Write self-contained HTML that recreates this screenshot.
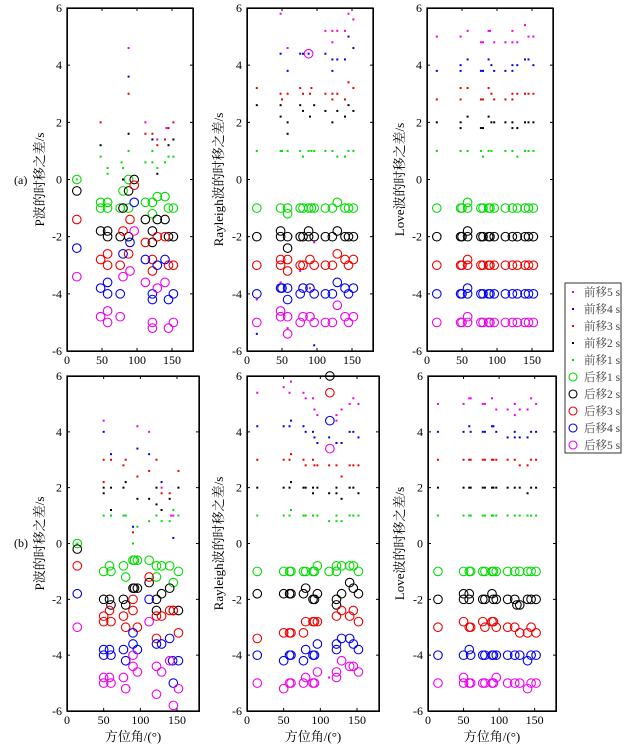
<!DOCTYPE html>
<html><head><meta charset="utf-8">
<style>
html,body{margin:0;padding:0;background:#fff;}
svg{display:block;font-family:"Liberation Serif","Noto Serif CJK SC",serif;}
.frame{position:absolute;border:1px solid #000;box-sizing:border-box;pointer-events:none;}
</style></head>
<body style="position:relative;width:625px;height:746px;">
<svg id="chart" width="625" height="746" viewBox="0 0 625 746"></svg>
<script>
// ---- data: [azimuth, time shift] ----
const aP_pre1=[[14,0],[48,0.8],[58,0.4],[58,0.2],[78,0.6],[80,0.4],[88,1.0],[112,0.6],[122,1.0],[122,0.6],[129,0.4],[140,0.6],[145,0.8],[152,0.8]];
const aP_pre2=[[48,1.2],[80,0],[88,1.6],[122,1.4],[129,0.2],[145,1.2],[152,1.4]];
const aP_pre3=[[48,2],[88,3],[112,1.6],[122,1.6],[129,1.2],[140,1.4],[145,1.8],[152,2]];
const aP_pre4=[[88,3.6]];
const aP_pre5=[[88,4.6],[112,2],[129,1.4],[142,1.8]];
const aP_post1=[[14,0],[48,-0.8],[48,-1],[58,-0.8],[58,-1],[76,-1],[80,-0.4],[88,-1],[88,0],[112,-0.8],[122,-0.8],[122,-1.2],[129,-0.6],[140,-0.6],[145,-1],[152,-1]];
const aP_post2=[[14,-0.4],[48,-1.8],[58,-1.8],[58,-2],[76,-2],[80,-1],[88,-0.4],[88,-2],[96,0],[112,-1.4],[122,-1.8],[122,-2.2],[129,-1.4],[140,-1.4],[145,-2],[152,-2]];
const aP_post3=[[14,-1.4],[48,-2.8],[58,-2.6],[58,-3],[76,-3],[80,-1.8],[88,-2.6],[90,-1.4],[96,-0.2],[112,-2.2],[122,-2.8],[122,-3.2],[129,-2],[140,-2],[145,-3],[152,-3]];
const aP_post4=[[14,-2.4],[48,-3.8],[58,-3.6],[58,-4],[76,-4],[80,-2.6],[90,-2.2],[96,-0.8],[112,-2.8],[122,-4],[122,-4.2],[129,-3],[140,-2.8],[145,-4.2],[152,-4]];
const aP_post5=[[14,-3.4],[48,-4.8],[58,-4.6],[58,-5],[76,-4.8],[80,-3.4],[90,-3.2],[96,-1.8],[112,-3.6],[122,-5],[122,-5.2],[129,-3.8],[140,-3.6],[145,-5.2],[152,-5]];

const aR_pre1=[[14,1],[48,1],[50,1],[58,1],[76,1],[80,0.8],[88,1],[92,1],[96,1],[112,1],[122,1],[129,0.8],[140,0.8],[145,1],[152,1]];
const aR_pre2=[[14,2.6],[48,2.6],[48,2.2],[58,2],[58,1.6],[76,2.6],[80,2.4],[90,2.2],[96,2.6],[112,2.4],[122,2],[129,2.4],[140,2.2],[145,2.6],[152,2.4]];
const aR_pre3=[[14,3.2],[48,3],[50,2.8],[58,3],[76,3.2],[80,3],[90,3],[92,3.2],[112,3],[122,3],[122,2.8],[129,3],[140,2.8],[145,3.4],[152,3.2]];
const aR_pre4=[[14,-5.4],[48,4.4],[58,3.8],[76,4.4],[80,4.4],[88,4.4],[96,-5.8],[112,4.4],[122,4.2],[122,3.8],[129,4.2],[140,4.2],[145,5],[152,4.6]];
const aR_pre5=[[14,-4.2],[48,5.8],[48,-3.6],[58,4.6],[58,-5.2],[76,-3.2],[90,-3.8],[96,-2.2],[112,5.2],[122,5.2],[122,4.8],[129,5.2],[140,5.2],[145,5.8],[152,5.6]];
const aR_post1=[[14,-1],[48,-1],[58,-1],[58,-1.2],[76,-1],[80,-1],[88,-1],[92,-1],[96,-1],[112,-1],[122,-1],[129,-0.8],[140,-1],[145,-1],[152,-1]];
const aR_post2=[[14,-2],[48,-1.8],[48,-2],[58,-2],[58,-2.4],[76,-2],[80,-2],[88,-1.8],[88,-2],[96,-2],[112,-2],[122,-2],[129,-1.8],[140,-2],[145,-2],[152,-2]];
const aR_post3=[[14,-3],[48,-2.8],[48,-3],[58,-2.8],[58,-3.2],[76,-3],[80,-3],[90,-2.8],[96,-3],[112,-3],[122,-3],[129,-2.6],[140,-2.8],[145,-3],[152,-2.8]];
const aR_post4=[[14,-4],[48,-3.8],[50,-3.8],[58,-3.8],[58,-4.2],[76,-4],[80,-3.8],[90,-3.8],[96,-4],[112,-4],[122,-4],[129,-3.6],[140,-3.8],[145,-4],[152,-3.8]];
const aR_post5=[[14,-5],[48,-4.6],[48,-4.8],[58,-4.8],[58,-5.4],[76,-5],[80,-4.8],[90,-4.8],[96,-5],[112,-5],[122,-5],[129,-4.4],[140,-4.8],[145,-5],[152,-4.8],[88,4.4]];

const aL_pre1=[[14,1],[48,1],[58,1],[77,1],[80,0.8],[88,1],[92,1],[112,1],[122,1],[129,0.8],[140,1],[145,1],[152,1]];
const aL_pre2=[[14,2],[48,2],[48,1.8],[58,2.2],[77,1.8],[80,1.8],[88,2.2],[92,2],[96,2],[112,2],[122,2],[122,1.8],[129,1.8],[140,2],[145,2],[152,2]];
const aL_pre3=[[14,2.8],[48,3.2],[48,2.8],[58,3.2],[77,2.8],[80,2.8],[88,3.2],[92,3],[96,2.8],[112,2.8],[122,3],[122,2.8],[129,3],[140,3],[145,3],[152,3]];
const aL_pre4=[[14,3.8],[48,4],[48,3.8],[58,4.2],[77,3.8],[80,3.8],[88,4.2],[92,4],[96,3.8],[112,3.8],[122,4],[122,3.8],[129,4],[140,4.2],[145,4.2],[152,4]];
const aL_pre5=[[14,5],[48,5],[58,5.2],[77,4.8],[80,4.8],[88,5.2],[90,5.2],[96,4.8],[112,4.8],[122,5.2],[122,4.8],[129,4.8],[140,5.4],[145,5],[152,5]];
const aL_post1=[[14,-1],[48,-1],[50,-1],[58,-0.8],[58,-1],[77,-1],[80,-1],[88,-1],[90,-1],[96,-1],[112,-1],[122,-1],[129,-1],[140,-1],[145,-1],[152,-1]];
const aL_post2=[[14,-2],[48,-2],[50,-2],[58,-1.8],[58,-2],[77,-2],[80,-2],[88,-2],[90,-2],[96,-2],[112,-2],[122,-2],[129,-2],[140,-2],[145,-2],[152,-2]];
const aL_post3=[[14,-3],[48,-3],[50,-3],[58,-2.8],[58,-3],[77,-3],[80,-3],[88,-3],[90,-3],[96,-3],[112,-3],[122,-3],[129,-3],[140,-3],[145,-3],[152,-3]];
const aL_post4=[[14,-4],[48,-4],[50,-4],[58,-3.8],[58,-4],[77,-4],[80,-4],[88,-4],[90,-4],[96,-4],[112,-4],[122,-4],[129,-4],[140,-4],[145,-4],[152,-4]];
const aL_post5=[[14,-5],[48,-5],[50,-5],[58,-4.8],[58,-5],[77,-5],[80,-5],[88,-5],[90,-5],[96,-5],[112,-5],[122,-5],[129,-5],[140,-5],[145,-5],[152,-5]];

const bP_pre1=[[14,0],[50,1],[60,1],[77,1],[80,1],[90,0],[96,0.6],[112,0.8],[122,1],[129,0.8],[140,0.8],[145,1.2],[152,1]];
const bP_pre2=[[50,2],[50,1.8],[60,2],[60,1.2],[77,2],[80,2.2],[96,1.6],[112,1.6],[122,2],[122,1.4],[129,1.2],[140,1.6],[152,2]];
const bP_pre3=[[50,3],[50,2.2],[60,3],[77,2.8],[80,3],[90,0.4],[96,2.4],[112,2.6],[122,3],[129,1.8],[140,1.8],[152,2.6]];
const bP_pre4=[[50,4],[60,3.2],[90,0.6],[96,3.4],[112,3.2],[129,2.2],[145,0.2]];
const bP_pre5=[[50,4.4],[96,4.2],[112,4],[129,2],[142,1],[145,1]];
const bP_post1=[[14,0],[50,-1],[58,-0.8],[60,-1],[77,-0.8],[80,-1.2],[90,-0.6],[92,-0.6],[96,-0.6],[112,-0.6],[122,-0.8],[122,-1.2],[129,-0.8],[140,-0.8],[145,-1.4],[152,-1]];
const bP_post2=[[14,-0.2],[50,-2],[58,-2],[60,-2.2],[77,-2],[80,-2.2],[90,-1.6],[92,-1.6],[96,-1.6],[112,-1.4],[122,-2],[122,-2.4],[129,-1.8],[140,-1.6],[145,-2.4],[152,-2.4]];
const bP_post3=[[14,-0.8],[50,-2.6],[50,-2.8],[58,-2.4],[60,-2.8],[77,-2.6],[80,-3],[90,-2],[90,-2.4],[96,-3],[112,-1.2],[122,-2.6],[122,-3.4],[129,-2.6],[140,-2.4],[145,-2.4],[152,-3.2]];
const bP_post4=[[14,-1.8],[50,-3.8],[50,-4],[58,-3.8],[60,-4],[77,-3.8],[80,-4.2],[90,-3.2],[90,-3.6],[96,-3.8],[112,-2],[122,-3.6],[129,-3.6],[140,-3.4],[145,-5],[144,-4.2],[152,-4.2]];
const bP_post5=[[14,-3],[50,-4.8],[50,-5],[58,-4.8],[60,-5],[77,-4.8],[80,-5.2],[90,-4],[90,-4.4],[96,-4.6],[112,-2.8],[122,-4.4],[122,-5.4],[129,-4.6],[140,-4.2],[145,-5.8],[152,-5.2]];

const bR_pre1=[[14,1],[50,1],[58,1],[60,1.2],[77,1],[80,1],[90,1],[96,1],[112,0.8],[122,1],[122,0.8],[129,0.8],[140,1],[145,1],[152,1]];
const bR_pre2=[[14,2],[50,2],[58,2],[60,2.2],[77,2],[80,2],[90,2],[90,1.8],[96,2],[112,1.8],[122,2],[122,1.8],[129,1.6],[140,2],[145,2],[152,1.8]];
const bR_pre3=[[14,3],[50,3],[58,3],[60,3.2],[77,3],[80,2.8],[90,3],[92,2.8],[96,2.8],[112,2.8],[122,2.8],[129,2.4],[140,2.8],[145,2.8],[152,2.8]];
const bR_pre4=[[14,4.2],[50,4.2],[58,4.2],[60,4.4],[77,4.2],[80,4],[90,4],[92,3.8],[96,3.6],[112,3.8],[122,3.6],[129,3.6],[140,4],[145,4],[152,3.8]];
const bR_pre5=[[14,5.4],[50,5.6],[58,5.4],[60,5.8],[77,5.4],[80,5.2],[90,5.2],[92,4.8],[96,4.6],[112,-4.8],[122,4.4],[122,4.6],[129,4.8],[140,5],[145,5.2],[152,5]];
const bR_post1=[[14,-1],[50,-1],[58,-1],[60,-1],[77,-1],[80,-1],[90,-1],[92,-1],[96,-0.8],[112,-1],[122,-1],[122,-0.8],[129,-0.8],[140,-0.8],[145,-0.8],[152,-1]];
const bR_post2=[[14,-1.8],[50,-1.8],[58,-1.8],[60,-1.8],[77,-1.8],[80,-1.6],[90,-2],[92,-2],[96,-1.8],[113,6],[122,-2],[122,-2.2],[129,-1.8],[140,-1.4],[145,-1.6],[152,-1.8]];
const bR_post3=[[14,-3.4],[50,-3.2],[58,-3.2],[60,-3.2],[77,-3.2],[80,-2.8],[90,-2.8],[92,-2.8],[96,-2.8],[113,5.4],[122,-2.6],[129,-2.4],[140,-2.6],[145,-2.4],[152,-2.8]];
const bR_post4=[[14,-4],[50,-4.2],[58,-4],[60,-4],[77,-4.2],[80,-3.8],[90,-4],[92,-4],[96,-3.6],[113,4.4],[122,-3.6],[122,-3.8],[129,-3.4],[140,-3.4],[145,-3.6],[152,-3.8]];
const bR_post5=[[14,-5],[50,-5.2],[58,-5],[60,-5],[77,-5],[80,-4.8],[90,-5],[92,-5],[96,-4.6],[113,3.4],[122,-4.6],[122,-4.8],[129,-4.2],[140,-4.4],[145,-4.4],[152,-4.6]];

const bL_pre1=[[14,1],[50,1],[58,1],[60,1],[77,1],[80,1],[90,1],[92,1],[96,1],[112,1],[122,1],[129,1],[140,1],[145,1],[152,1]];
const bL_pre2=[[14,2],[50,2],[58,2],[60,2],[77,2],[80,2],[90,2],[92,2],[96,2],[112,2],[122,2],[129,2],[140,1.8],[145,2],[152,2]];
const bL_pre3=[[14,3],[50,3],[58,3],[60,3],[77,3],[80,3],[90,3],[92,3],[96,3],[112,3],[122,3],[129,2.8],[140,2.8],[145,3],[152,3]];
const bL_pre4=[[14,4],[50,4],[58,4.2],[60,4],[77,4],[80,4],[90,4.2],[92,4.2],[96,4],[112,3.8],[122,3.8],[122,4],[129,3.8],[140,3.8],[145,4],[152,4]];
const bL_pre5=[[14,5],[50,5],[58,5.2],[60,5.2],[77,5],[80,5],[90,5.2],[96,4.8],[112,4.8],[122,5],[122,4.6],[129,4.8],[140,4.8],[145,5.2],[152,5]];
const bL_post1=[[14,-1],[50,-1],[58,-1],[60,-1],[77,-1],[80,-1],[90,-1],[92,-1],[96,-1],[112,-1],[122,-1],[129,-1],[140,-1],[145,-1],[152,-1]];
const bL_post2=[[14,-2],[50,-1.8],[50,-2],[58,-1.8],[58,-2],[77,-2],[80,-2],[90,-1.8],[92,-2],[96,-2],[112,-2],[122,-2],[125,-2.2],[129,-2.2],[140,-2],[145,-2],[152,-2]];
const bL_post3=[[14,-3],[50,-2.8],[58,-3],[60,-3],[77,-2.8],[80,-3],[90,-2.8],[92,-2.8],[96,-3],[112,-3],[122,-3],[129,-3.2],[140,-3.2],[145,-3],[152,-3.2]];
const bL_post4=[[14,-4],[50,-4],[58,-3.8],[60,-4],[77,-4],[80,-4],[90,-4],[92,-4],[96,-4],[112,-4],[122,-4],[129,-4],[140,-4.2],[145,-4],[152,-4]];
const bL_post5=[[14,-5],[50,-4.8],[50,-5],[58,-5],[60,-5],[77,-5],[80,-5],[90,-5],[92,-5],[96,-4.8],[112,-5],[122,-5],[129,-5],[140,-5.2],[145,-5],[152,-5]];

const xTicks=[0,50,100,150];
const yTicks=[-6,-4,-2,0,2,4,6];
const legendLabels=["前移5 s","前移4 s","前移3 s","前移2 s","前移1 s","后移1 s","后移2 s","后移3 s","后移4 s","后移5 s"];

const NS="http://www.w3.org/2000/svg";
const svg=document.getElementById('chart');
const colors=["#00dd00","#000000","#ee0000","#0000ee","#ee00ee"];
function mk(tag,attrs,parent){const e=document.createElementNS(NS,tag);for(const k in attrs)e.setAttribute(k,attrs[k]);(parent||svg).appendChild(e);return e;}

const panels=[
 {id:"a-p",x0:67,x1:193,y0:8,y1:351,label:"P波的时移之差/s",lx:44,pre:[aP_pre1,aP_pre2,aP_pre3,aP_pre4,aP_pre5],post:[aP_post1,aP_post2,aP_post3,aP_post4,aP_post5],xl:false},
 {id:"a-rayleigh",x0:247,x1:373,y0:8,y1:351,label:"Rayleigh波的时移之差/s",lx:223,pre:[aR_pre1,aR_pre2,aR_pre3,aR_pre4,aR_pre5],post:[aR_post1,aR_post2,aR_post3,aR_post4,aR_post5],xl:false},
 {id:"a-love",x0:427,x1:553,y0:8,y1:351,label:"Love波的时移之差/s",lx:404,pre:[aL_pre1,aL_pre2,aL_pre3,aL_pre4,aL_pre5],post:[aL_post1,aL_post2,aL_post3,aL_post4,aL_post5],xl:false},
 {id:"b-p",x0:67,x1:199,y0:376,y1:711,label:"P波的时移之差/s",lx:44,pre:[bP_pre1,bP_pre2,bP_pre3,bP_pre4,bP_pre5],post:[bP_post1,bP_post2,bP_post3,bP_post4,bP_post5],xl:true},
 {id:"b-rayleigh",x0:247,x1:379,y0:376,y1:711,label:"Rayleigh波的时移之差/s",lx:223,pre:[bR_pre1,bR_pre2,bR_pre3,bR_pre4,bR_pre5],post:[bR_post1,bR_post2,bR_post3,bR_post4,bR_post5],xl:true},
 {id:"b-love",x0:428,x1:556,y0:376,y1:711,label:"Love波的时移之差/s",lx:404,pre:[bL_pre1,bL_pre2,bL_pre3,bL_pre4,bL_pre5],post:[bL_post1,bL_post2,bL_post3,bL_post4,bL_post5],xl:true}
];

panels.forEach(p=>{
  const g=mk('g',{});
  
  
  const sx=v=>p.x0+(v-0)/(180-0)*(p.x1-p.x0);
  const sy=v=>p.y1-(v+6)/12*(p.y1-p.y0);
  const fr=mk('path',{d:`M${p.x0} ${p.y0}H${p.x1}V${p.y1}H${p.x0}Z`,fill:'none',stroke:'#000','stroke-width':1.3},g);
  
  
  const div=document.createElement('div');
  div.className='frame';
  div.style.left=(p.x0-0.5)+'px';div.style.top=(p.y0-0.5)+'px';
  div.style.width=(p.x1-p.x0+1)+'px';div.style.height=(p.y1-p.y0+1)+'px';
  
  
  document.body.appendChild(div);
  let tk='';
  xTicks.forEach(t=>{
    const x=sx(t);
    tk+=`M${x} ${p.y1}V${p.y1-3}M${x} ${p.y0}V${p.y0+3}`;
    const tx=mk('text',{x:x,y:p.y1+13,'font-size':12,'text-anchor':'middle',fill:'#000'},g);
    tx.textContent=t;
    
    
  });
  yTicks.forEach(t=>{
    const y=sy(t);
    tk+=`M${p.x0} ${y}H${p.x0+3}M${p.x1} ${y}H${p.x1-3}`;
    const tx=mk('text',{x:p.x0-5,y:y+4,'font-size':12,'text-anchor':'end',fill:'#000'},g);
    tx.textContent=t;
    
    
  });
  const tp=mk('path',{d:tk,stroke:'#000','stroke-width':1,fill:'none'},g);
  
  
  const cy=(p.y0+p.y1)/2;
  const yl=mk('text',{x:p.lx,y:cy,'font-size':13,'text-anchor':'middle',transform:`rotate(-90 ${p.lx} ${cy})`,fill:'#000'},g);
  yl.textContent=p.label;
  
  
  if(p.xl){
    const xt=mk('text',{x:(p.x0+p.x1)/2,y:p.y1+30,'font-size':13,'text-anchor':'middle',fill:'#000'},g);
    xt.textContent='方位角/(°)';
    
    
  }
  p.post.forEach((arr,i)=>{
    arr.forEach(d=>{
      const c=mk('circle',{cx:sx(d[0]),cy:sy(d[1]),r:4.3,fill:'none',stroke:colors[i],'stroke-width':1.1},g);
      
      
    });
  });
  p.pre.forEach((arr,i)=>{
    arr.forEach(d=>{
      const r=mk('rect',{x:sx(d[0])-1,y:sy(d[1])-1,width:2,height:2,fill:colors[i]},g);
      
      
    });
  });
});

// panel letters
[["(a)",14,184],["(b)",14,547]].forEach(l=>{
  const t=mk('text',{x:l[1],y:l[2],'font-size':12,fill:'#000'});
  t.textContent=l[0];
  
  
});

// legend
const lg=mk('g',{});


mk('rect',{x:565,y:283,width:56,height:170,fill:'#fff',stroke:'#333','stroke-width':1},lg);
const legColors=[4,3,2,1,0,0,1,2,3,4];
legendLabels.forEach((lab,i)=>{
  const y=292+i*17;
  if(i<5){
    mk('rect',{x:572,y:y-1,width:2,height:2,fill:colors[legColors[i]]},lg);
  }else{
    mk('circle',{cx:573,cy:y,r:4,fill:'none',stroke:colors[legColors[i]],'stroke-width':1.1},lg);
  }
  const t=mk('text',{x:584,y:y+4,'font-size':11.5,fill:'#444'},lg);
  t.textContent=lab;
  
  
});
</script>
</body></html>
